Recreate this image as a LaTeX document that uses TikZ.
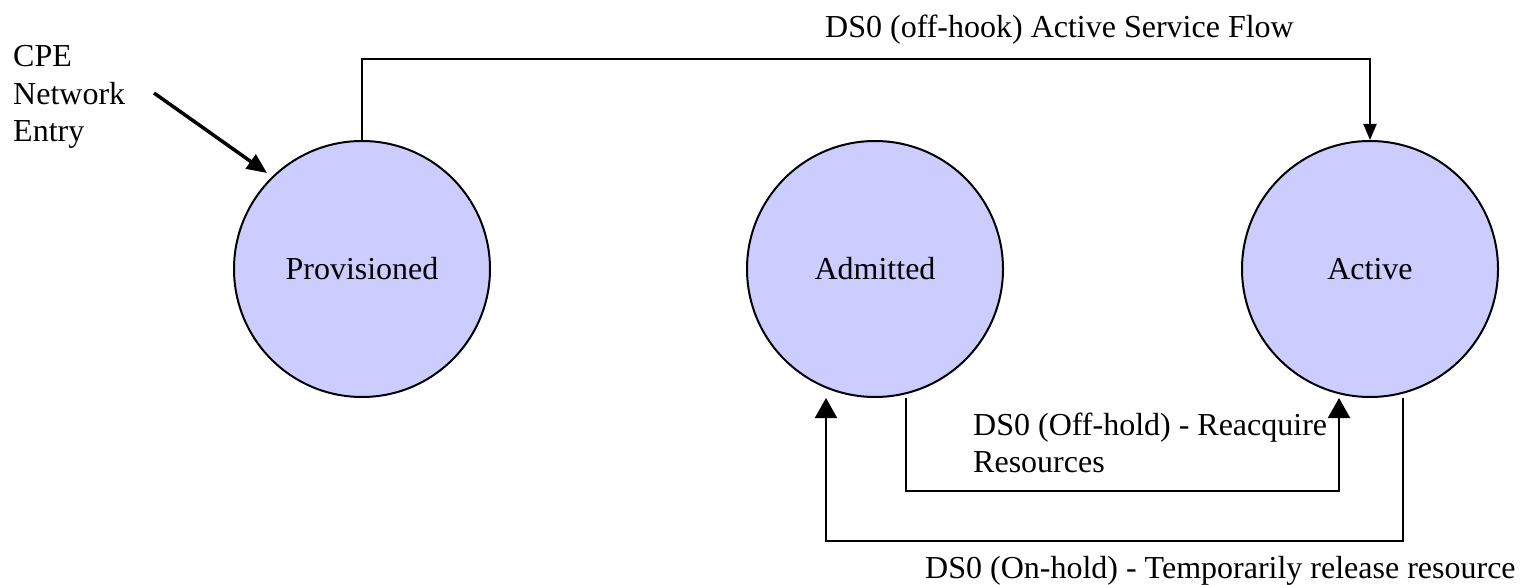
\documentclass[tikz,border=0pt]{standalone}
\usepackage{fontspec}
\setmainfont{Liberation Serif}
\usetikzlibrary{arrows.meta}
\begin{document}
\begin{tikzpicture}[x=1pt,y=-1pt,
  txt/.style={font=\fontsize{32}{37.5}\selectfont},
  state/.style={circle,draw=black,line width=2pt,fill={rgb,255:red,204;green,204;blue,255},minimum size=256pt,inner sep=0pt,txt},
  lbl/.style={txt,inner sep=0pt},
  conn/.style={line width=2pt},
  smalltip/.style={-{Triangle[length=16pt,width=13pt]}},
  bigtip/.style={-{Triangle[length=20pt,width=22pt]}}]
\useasboundingbox (0,0) rectangle (1523,585);
\node[state] (prov) at (362,269) {Provisioned};
\node[state] (adm) at (875,269) {Admitted};
\node[state] (act) at (1370,269) {Active};
% CPE entry
\node[lbl,anchor=base west] (cpe1) at (13,67) {CPE};
\node[lbl,anchor=base west] (cpe2) at (13,104.5) {Network};
\node[lbl,anchor=base west] (cpe3) at (13,142) {Entry};
\coordinate (cpes) at (154,93);
\coordinate (cpet) at (267,173);
\draw[line width=3.5pt,-{Triangle[length=20pt,width=17pt]}] (cpes) -- (cpet);
% top connector
\draw[conn,smalltip] (prov.north) -- ++(0,-81) -| (act.north);
\node[lbl,anchor=base west] (ltop) at (825,38) {DS0 (off-hook) Active Service Flow};
% inner loop: Admitted -> Active
\coordinate (a1) at (906,491);
\coordinate (a2) at (1339,491);
\draw[conn,bigtip] (adm.south) ++(31,0) |- (a1) -- (a2) -- (act.south -| a2);
% outer loop: Active -> Admitted
\coordinate (b1) at (1403,541);
\coordinate (b2) at (826,541);
\draw[conn,bigtip] (act.south) ++(33,0) |- (b1) -- (b2) -- (adm.south -| b2);
\node[lbl,anchor=base west] (lin) at (973,435) {DS0 (Off-hold) - Reacquire};
\node[lbl,anchor=base west] (lin2) at (973,472) {Resources};
\node[lbl,anchor=base west] (lout) at (925,578) {DS0 (On-hold) - Temporarily release resource};
\end{tikzpicture}
\end{document}
